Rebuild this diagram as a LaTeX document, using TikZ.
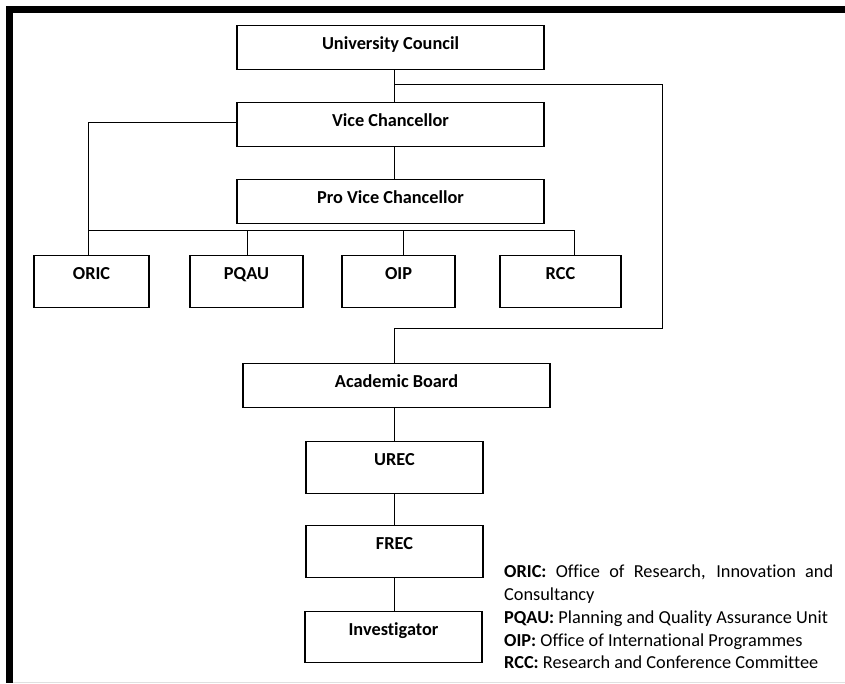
\documentclass[tikz,border=0pt]{standalone}
\usepackage{fontspec}
\setmainfont{Carlito}[Ligatures=CommonOff]
\begin{document}
\begin{tikzpicture}[x=1pt,y=-1pt,
  box/.style={draw=black, line width=1.1pt, inner sep=0pt, anchor=north,
    text height=24.3pt, font=\fontsize{18.3}{22.75}\selectfont\bfseries},
  widebox/.style={box, minimum width=307pt, text depth=19.7pt},
  smallbox/.style={box, text depth=27.7pt},
  link/.style={draw=black, line width=1pt},
  legend/.style={inner sep=0pt, anchor=north west, align=left,
    font=\fontsize{18.3}{22.75}\selectfont}]
\useasboundingbox (0,0) rectangle (845,683);
% frame
\fill[black] (6,6) rectangle (845,13);
\fill[black] (6,6) rectangle (13,683);
\draw[black!12, line width=1pt] (13,682) -- (845,682);
% boxes
\node[widebox] (UC) at (390.5,25) {University Council};
\node[widebox] (VC) at (390.5,102) {Vice Chancellor};
\node[widebox] (PVC) at (390.5,179) {Pro Vice Chancellor};
\node[smallbox, minimum width=115pt] (ORIC) at (91.5,255) {ORIC};
\node[smallbox, minimum width=113pt] (PQAU) at (246.5,255) {PQAU};
\node[smallbox, minimum width=113pt] (OIP) at (398.5,255) {OIP};
\node[smallbox, minimum width=121pt] (RCC) at (560.5,255) {RCC};
\node[widebox] (AB) at (396.5,363) {Academic Board};
\node[smallbox, minimum width=177pt] (UREC) at (394.5,441) {UREC};
\node[smallbox, minimum width=177pt] (FREC) at (394.5,525) {FREC};
\node[smallbox, minimum width=177pt, text depth=26.7pt] (INV) at (393.5,611) {Investigator};
% connector points
\coordinate (j1) at (394,84);
\coordinate (r1) at (662,328);
\coordinate (a1) at (394,328);
\coordinate (vcl) at (88,122);
\coordinate (bL) at (88,230);
\coordinate (bR) at (574,230);
\coordinate (d2) at (247,230);
\coordinate (d3) at (403,230);
% connectors
\draw[link] (UC.south -| j1) -- (VC.north -| j1);
\draw[link] (j1) -| (r1) -- (a1) -- (AB.north -| a1);
\draw[link] (VC.west |- vcl) -- (vcl) -- (vcl |- ORIC.north);
\draw[link] (VC.south -| j1) -- (PVC.north -| j1);
\draw[link] (bL) -- (bR) -- (bR |- RCC.north);
\draw[link] (d2) -- (d2 |- PQAU.north);
\draw[link] (d3) -- (d3 |- OIP.north);
\draw[link] (AB.south -| j1) -- (UREC.north -| j1);
\draw[link] (UREC.south -| j1) -- (FREC.north -| j1);
\draw[link] (FREC.south -| j1) -- (INV.north -| j1);
% legend
\node[legend] (LEG) at (504,565) {\makebox[329pt][s]{\textbf{ORIC:} Office of Research, Innovation and}\\
Consultancy\\
\textbf{PQAU:} Planning and Quality Assurance Unit\\
\textbf{OIP:} Office of International Programmes\\
\textbf{RCC:} Research and Conference Committee};
\end{tikzpicture}
\end{document}
